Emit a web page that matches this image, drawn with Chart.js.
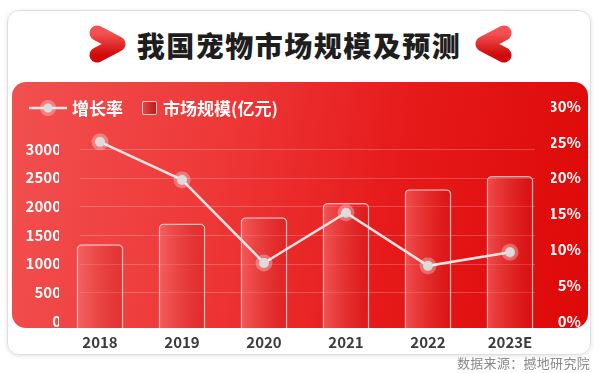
<!DOCTYPE html>
<html>
<head>
<meta charset="utf-8">
<script src="https://cdn.jsdelivr.net/npm/chart.js@4/dist/chart.umd.min.js"></script>
<style>
    body { margin: 0; background: #fff; }
    #wrap { position: relative; width: 600px; height: 373px; overflow: hidden; background: #fff;
        font-family: "Noto Sans CJK SC", "Noto Sans", sans-serif; }
    .card { position: absolute; left: 7px; top: 10px; width: 582px; height: 343px;
        border: 1px solid #dedede; border-radius: 12px; box-shadow: 0 1px 4px rgba(0,0,0,0.12); }
    .panel { position: absolute; left: 12px; top: 82px; width: 576px; height: 246px; border-radius: 14px;
        background: linear-gradient(100deg, #f25050 0%, #ee3838 35%, #e61a1a 65%, #de0808 100%); }
    .title { position: absolute; left: 0; top: 25px; width: 598px; height: 40px; line-height: 40px;
        text-align: center; font-size: 28px; font-weight: 900; letter-spacing: 1.5px; color: #1e1e1e; }
    #chev { position: absolute; left: 0; top: 0; }
    canvas { position: absolute; left: 0; top: 0; }
    .legend { position: absolute; top: 98px; left: 28px; height: 20px; color: #fff; font-size: 17px;
        font-weight: bold; line-height: 20px; white-space: nowrap; }
    .legend span, .legend svg, .legend i { position: absolute; top: 0; }
    .legend i { top: 3px; width: 13px; height: 12px; border: 1.5px solid rgba(255,225,225,0.85); border-radius: 2px;
        background: linear-gradient(90deg, #e04848, #c01818); }
    .source { position: absolute; right: 10px; top: 353px; font-size: 13px; color: #8a8a8a; letter-spacing: 0.3px; }
</style>
</head>
<body>
<div id="wrap">
    <div class="card"></div>
    <div class="panel"></div>
    <svg id="chev" width="600" height="80">
        <defs>
            <linearGradient id="cg" x1="0" y1="0" x2="0" y2="1">
                <stop offset="0" stop-color="#f45252"/>
                <stop offset="1" stop-color="#cf0a0a"/>
            </linearGradient>
        </defs>
        <path d="M97,33 L118,44 L97,55" fill="none" stroke="url(#cg)" stroke-width="15" stroke-linecap="round" stroke-linejoin="round"/>
        <path d="M504,33 L483,44 L504,55" fill="none" stroke="url(#cg)" stroke-width="15" stroke-linecap="round" stroke-linejoin="round"/>
    </svg>
    <div class="title">我国宠物市场规模及预测</div>
    <canvas id="chart" width="600" height="373"></canvas>
    <div class="legend">
        <svg width="40" height="20" style="left:0">
            <line x1="1" y1="10" x2="39" y2="10" stroke="#f6e6e6" stroke-width="2.5"/>
            <circle cx="20" cy="10" r="8" fill="rgba(255,255,255,0.3)"/>
            <circle cx="20" cy="10" r="4.5" fill="#dcdcdc"/>
        </svg>
        <span style="left:44px">增长率</span>
        <i style="left:114px"></i>
        <span style="left:135px">市场规模(亿元)</span>
    </div>
    <div class="source">数据来源：撼地研究院</div>
</div>
<script>
const years = ['2018', '2019', '2020', '2021', '2022', '2023E'];
const marketSize = [1340, 1700, 1810, 2060, 2300, 2530];
const growthRate = [25.0, 19.7, 8.1, 15.1, 7.7, 9.6];
const leftTicks = [0, 500, 1000, 1500, 2000, 2500, 3000];
const rightTicks = [0, 5, 10, 15, 20, 25, 30];

// point marker with a soft halo
const dot = document.createElement('canvas');
dot.width = 20; dot.height = 20;
const dctx = dot.getContext('2d');
dctx.fillStyle = 'rgba(255,255,255,0.3)';
dctx.beginPath(); dctx.arc(10, 10, 8.5, 0, Math.PI * 2); dctx.fill();
dctx.fillStyle = '#dcdcdc';
dctx.beginPath(); dctx.arc(10, 10, 5, 0, Math.PI * 2); dctx.fill();

// horizontal grid lines, shorter than the chart area
const gridLines = {
    id: 'gridLines',
    beforeDatasetsDraw(chart) {
        const ctx = chart.ctx;
        const y = chart.scales.y;
        const a = chart.chartArea;
        ctx.save();
        ctx.strokeStyle = 'rgba(255,255,255,0.22)';
        ctx.lineWidth = 1;
        y.ticks.forEach(t => {
            if (t.value === 0) return;
            const py = Math.round(y.getPixelForValue(t.value)) + 0.5;
            ctx.beginPath();
            ctx.moveTo(a.left + 21, py);
            ctx.lineTo(a.right - 16, py);
            ctx.stroke();
        });
        ctx.restore();
    }
};

function barFill(c) {
    const chart = c.chart;
    if (!chart.chartArea) return 'rgba(240,100,100,0.5)';
    const x = chart.scales.x.getPixelForValue(c.dataIndex);
    const half = chart.scales.x.width / years.length * 0.57 / 2;
    const g = chart.ctx.createLinearGradient(x - half, 0, x + half, 0);
    g.addColorStop(0, 'rgba(250,125,125,0.55)');
    g.addColorStop(1, 'rgba(200,20,20,0.3)');
    return g;
}

const tickFont = { family: '"Noto Sans CJK SC", "Noto Sans", sans-serif', size: 15, weight: 'bold' };

new Chart(document.getElementById('chart'), {
    data: {
        labels: years,
        datasets: [{
            type: 'line',
            label: '增长率',
            data: growthRate,
            yAxisID: 'y1',
            order: 0,
            borderColor: '#f6e4e4',
            borderWidth: 2.5,
            pointStyle: dot,
            pointRadius: 8,
            tension: 0
        }, {
            type: 'bar',
            label: '市场规模(亿元)',
            data: marketSize,
            yAxisID: 'y',
            order: 1,
            base: -125,
            clip: false,
            backgroundColor: barFill,
            borderColor: 'rgba(255,230,230,0.75)',
            borderWidth: 1.5,
            borderRadius: { topLeft: 5, topRight: 5 },
            borderSkipped: 'bottom',
            categoryPercentage: 1,
            barPercentage: 0.57
        }]
    },
    options: {
        responsive: false,
        animation: false,
        layout: { padding: { top: 106, left: 0, right: 19, bottom: 0 } },
        plugins: { legend: { display: false }, tooltip: { enabled: false } },
        scales: {
            x: {
                offset: true,
                grid: { display: false, drawTicks: false },
                border: { display: false },
                ticks: { color: '#3c3c3c', font: tickFont, padding: 12 },
                afterFit: s => { s.height = 52; }
            },
            y: {
                position: 'left',
                min: 0,
                max: 3750,
                grid: { display: false, drawTicks: false },
                border: { display: false },
                afterBuildTicks: s => { s.ticks = leftTicks.map(v => ({ value: v })); },
                ticks: { color: '#fff', font: tickFont, padding: -2, callback: v => String(v) },
                afterFit: s => { s.width = 59; }
            },
            y1: {
                position: 'right',
                min: 0,
                max: 30,
                grid: { display: false, drawTicks: false },
                border: { display: false },
                afterBuildTicks: s => { s.ticks = rightTicks.map(v => ({ value: v })); },
                ticks: { color: '#fff', font: tickFont, padding: 2, crossAlign: 'far', callback: v => v + '%' },
                afterFit: s => { s.width = 30; }
            }
        }
    },
    plugins: [gridLines]
});
</script>
</body>
</html>
